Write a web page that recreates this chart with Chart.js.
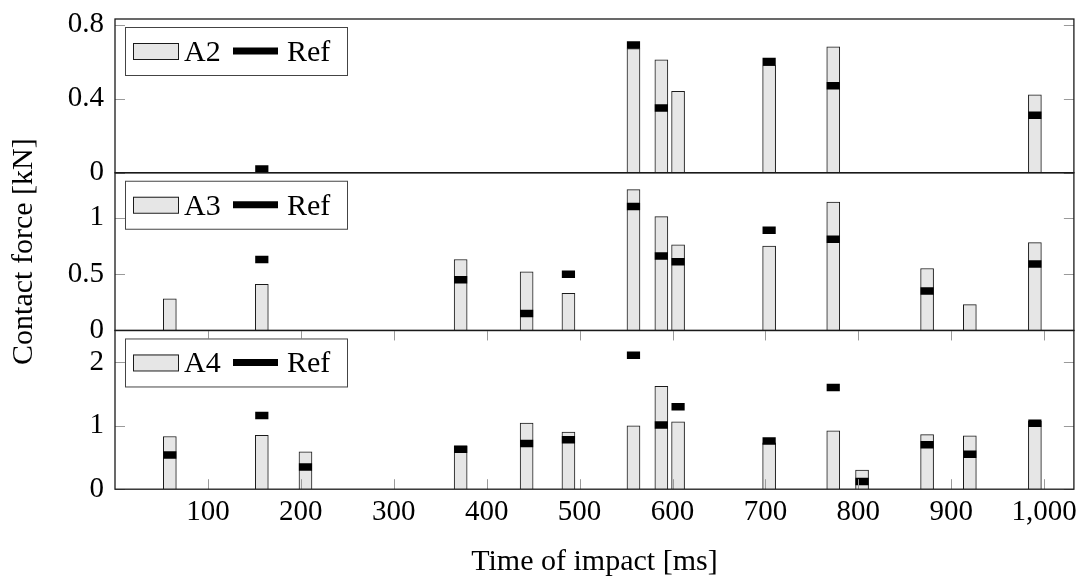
<!DOCTYPE html>
<html lang="en">
<head>
<meta charset="UTF-8">
<title>Contact force per impact</title>
<script src="https://cdn.jsdelivr.net/npm/chart.js"></script>
<style>
  html, body { margin: 0; padding: 0; background: #fff; }
  #wrap { position: relative; width: 1088px; height: 583px; }
</style>
</head>
<body>
<div id="wrap"><canvas id="forceChart"></canvas></div>
<script>
// values: impact time [ms] -> contact force [kN]
const timesA2 = [558, 588, 606, 704, 773, 990];
const forceA2 = [0.67, 0.61, 0.44, 0.58, 0.68, 0.42];
const refTimesA2 = [158, 558, 588, 704, 773, 990];
const refA2 = [0.02, 0.69, 0.35, 0.60, 0.47, 0.31];

const timesA3 = [59, 158, 372, 443, 488, 558, 588, 606, 704, 773, 874, 920, 990];
const forceA3 = [0.28, 0.41, 0.63, 0.52, 0.33, 1.25, 1.01, 0.76, 0.75, 1.14, 0.55, 0.23, 0.78];
const refTimesA3 = [158, 372, 443, 488, 558, 588, 606, 704, 773, 874, 990];
const refA3 = [0.63, 0.45, 0.15, 0.50, 1.10, 0.66, 0.61, 0.89, 0.81, 0.35, 0.59];

const timesA4 = [59, 158, 205, 372, 443, 488, 558, 588, 606, 704, 773, 804, 874, 920, 990];
const forceA4 = [0.83, 0.85, 0.59, 0.68, 1.04, 0.90, 1.00, 1.62, 1.06, 0.73, 0.92, 0.30, 0.86, 0.84, 1.07];
const refTimesA4 = [59, 158, 205, 372, 443, 488, 558, 588, 606, 704, 773, 804, 874, 920, 990];
const refA4 = [0.54, 1.16, 0.35, 0.63, 0.72, 0.78, 2.11, 1.01, 1.30, 0.76, 1.60, 0.12, 0.70, 0.55, 1.04];

const xTicks = [100, 200, 300, 400, 500, 600, 700, 800, 900, 1000];
const yTicksA2 = [0, 0.4, 0.8];
const yTicksA3 = [0, 0.5, 1];
const yTicksA4 = [0, 1, 2];

const FONT = '"Liberation Serif", "Times New Roman", serif';
const BAR_FILL = '#e6e6e6';
const INK = '#1a1a1a';

function pts(xs, ys) {
    return xs.map((x, i) => ({ x: x, y: ys[i] }));
}

function barSet(label, xs, ys, axis) {
    return {
        type: 'bar', label: label, yAxisID: axis, grouped: false, order: 2,
        data: pts(xs, ys),
        backgroundColor: BAR_FILL, borderColor: INK, borderWidth: 1,
        barThickness: 13
    };
}

function refSet(xs, ys, axis) {
    return {
        type: 'scatter', label: 'Ref', yAxisID: axis, order: 1,
        data: pts(xs, ys),
        pointStyle: 'line', pointRadius: 6.6, pointHoverRadius: 6.6,
        borderColor: '#000', backgroundColor: '#000', borderWidth: 7.5,
        showLine: false, clip: 0
    };
}

function yAxis(ticks, max, weight, stackWeight) {
    return {
        type: 'linear', position: 'left', stack: 'panels',
        stackWeight: stackWeight, weight: weight,
        min: 0, max: max,
        grid: { display: false, drawTicks: false },
        border: { display: false },
        afterBuildTicks: s => { s.ticks = ticks.map(v => ({ value: v })); },
        afterFit: s => { s.width = 115; s.paddingTop = 0; s.paddingBottom = 0; },
        ticks: {
            color: '#000', padding: 11,
            font: { family: FONT, size: 29 },
            callback: v => String(v)
        }
    };
}

// frame, inward tick marks and a boxed legend for every panel
const panelDeco = {
    id: 'panelDeco',
    afterDatasetsDraw(chart) {
        const ctx = chart.ctx;
        const area = chart.chartArea;
        const xs = chart.scales.x;
        const seg = (x1, y1, x2, y2) => {
            ctx.beginPath(); ctx.moveTo(x1, y1); ctx.lineTo(x2, y2); ctx.stroke();
        };
        ctx.save();
        ['yA2', 'yA3', 'yA4'].forEach(id => {
            const s = chart.scales[id];
            ctx.strokeStyle = '#9a9a9a';
            ctx.lineWidth = 1;
            s.ticks.forEach(t => {
                const py = Math.round(s.getPixelForValue(t.value)) + 0.5;
                seg(area.left, py, area.left + 10, py);
                seg(area.right - 10, py, area.right, py);
            });
            if (id === 'yA4') {
                xs.ticks.forEach(t => {
                    const px = Math.round(xs.getPixelForValue(t.value)) + 0.5;
                    seg(px, s.top, px, s.top + 10);
                    seg(px, s.bottom - 10, px, s.bottom);
                });
            }
            ctx.strokeStyle = INK;
            ctx.lineWidth = 1.3;
            ctx.strokeRect(area.left, s.top, area.right - area.left, s.bottom - s.top);

            // legend
            const sets = chart.data.datasets.filter(d => d.yAxisID === id);
            const lx = area.left + 10, ly = s.top + 8;
            ctx.fillStyle = '#fff';
            ctx.fillRect(lx, ly, 222, 48);
            ctx.strokeStyle = '#444';
            ctx.lineWidth = 1;
            ctx.strokeRect(lx + 0.5, ly + 0.5, 222, 48);
            ctx.fillStyle = BAR_FILL;
            ctx.fillRect(lx + 8, ly + 16, 45, 16);
            ctx.strokeStyle = INK;
            ctx.strokeRect(lx + 8.5, ly + 16.5, 45, 16);
            ctx.strokeStyle = '#000';
            ctx.lineWidth = 7;
            seg(lx + 108, ly + 24, lx + 153, ly + 24);
            ctx.fillStyle = '#000';
            ctx.font = '30px ' + FONT;
            ctx.textBaseline = 'alphabetic';
            ctx.fillText(sets[0].label, lx + 59, ly + 34);
            ctx.fillText(sets[1].label, lx + 162, ly + 34);
        });
        ctx.restore();
    }
};

new Chart(document.getElementById('forceChart'), {
    type: 'bar',
    data: {
        datasets: [
            barSet('A2', timesA2, forceA2, 'yA2'),
            refSet(refTimesA2, refA2, 'yA2'),
            barSet('A3', timesA3, forceA3, 'yA3'),
            refSet(refTimesA3, refA3, 'yA3'),
            barSet('A4', timesA4, forceA4, 'yA4'),
            refSet(refTimesA4, refA4, 'yA4')
        ]
    },
    options: {
        responsive: true,
        maintainAspectRatio: false,
        animation: false,
        layout: { padding: { top: 19, right: 9, left: 0, bottom: 0 } },
        plugins: { legend: { display: false }, tooltip: { enabled: false } },
        scales: {
            x: {
                type: 'linear', offset: false, min: 0, max: 1032,
                grid: { display: false, drawTicks: false },
                border: { display: false },
                afterBuildTicks: s => { s.ticks = xTicks.map(v => ({ value: v })); },
                ticks: {
                    color: '#000', padding: 5.5, maxRotation: 0,
                    font: { family: FONT, size: 29 },
                    callback: v => v.toLocaleString('en-US')
                },
                title: {
                    display: true, text: 'Time of impact [ms]', color: '#000',
                    font: { family: FONT, size: 30 },
                    padding: { top: 9, bottom: 3 }
                }
            },
            yA2: yAxis(yTicksA2, 0.83, 3, 154),
            yA3: Object.assign(yAxis(yTicksA3, 1.4, 2, 158), {
                title: {
                    display: true, text: 'Contact force [kN]', color: '#000',
                    font: { family: FONT, size: 30 },
                    padding: { top: 6, bottom: 0 }
                }
            }),
            yA4: yAxis(yTicksA4, 2.5, 1, 159)
        }
    },
    plugins: [panelDeco]
});
</script>
</body>
</html>
